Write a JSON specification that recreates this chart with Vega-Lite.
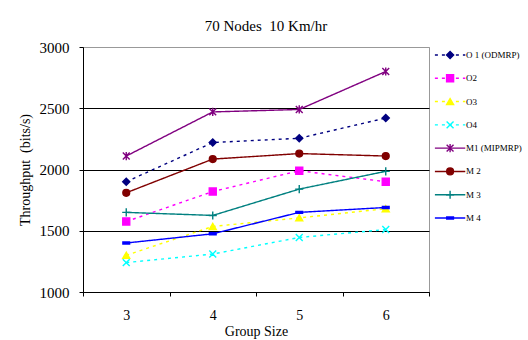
{
  "$schema": "https://vega.github.io/schema/vega-lite/v6.json",
  "padding": {"left": 17, "top": 18, "right": 0, "bottom": 0},
  "background": "white",
  "config": {"font": "Liberation Serif", "view": {"stroke": null}},
  "spacing": 0,
  "datasets": {
    "d": [
      {"series": "O 1 (ODMRP)", "g": 3, "v": 1900}, {"series": "O 1 (ODMRP)", "g": 4, "v": 2220}, {"series": "O 1 (ODMRP)", "g": 5, "v": 2255}, {"series": "O 1 (ODMRP)", "g": 6, "v": 2420},
      {"series": "O2", "g": 3, "v": 1575}, {"series": "O2", "g": 4, "v": 1820}, {"series": "O2", "g": 5, "v": 1990}, {"series": "O2", "g": 6, "v": 1900},
      {"series": "O3", "g": 3, "v": 1300}, {"series": "O3", "g": 4, "v": 1535}, {"series": "O3", "g": 5, "v": 1605}, {"series": "O3", "g": 6, "v": 1680},
      {"series": "O4", "g": 3, "v": 1240}, {"series": "O4", "g": 4, "v": 1310}, {"series": "O4", "g": 5, "v": 1445}, {"series": "O4", "g": 6, "v": 1510},
      {"series": "M1 (MIPMRP)", "g": 3, "v": 2110}, {"series": "M1 (MIPMRP)", "g": 4, "v": 2470}, {"series": "M1 (MIPMRP)", "g": 5, "v": 2490}, {"series": "M1 (MIPMRP)", "g": 6, "v": 2800},
      {"series": "M 2", "g": 3, "v": 1810}, {"series": "M 2", "g": 4, "v": 2085}, {"series": "M 2", "g": 5, "v": 2130}, {"series": "M 2", "g": 6, "v": 2110},
      {"series": "M 3", "g": 3, "v": 1650}, {"series": "M 3", "g": 4, "v": 1625}, {"series": "M 3", "g": 5, "v": 1840}, {"series": "M 3", "g": 6, "v": 1985},
      {"series": "M 4", "g": 3, "v": 1400}, {"series": "M 4", "g": 4, "v": 1475}, {"series": "M 4", "g": 5, "v": 1650}, {"series": "M 4", "g": 6, "v": 1690}
    ],
    "leg": [
      {"series": "O 1 (ODMRP)"}, {"series": "O2"}, {"series": "O3"}, {"series": "O4"},
      {"series": "M1 (MIPMRP)"}, {"series": "M 2"}, {"series": "M 3"}, {"series": "M 4"}
    ]
  },
  "hconcat": [
    {
      "width": 346,
      "height": 245,
      "view": {"stroke": "#999999"},
      "title": {"text": "70 Nodes\u00a0 10 Km/hr", "fontSize": 15, "fontWeight": "normal", "font": "Liberation Serif", "offset": 6, "anchor": "middle", "dx": 10, "color": "black"},
      "data": {"name": "d"},
      "encoding": {
        "x": {
          "field": "g", "type": "ordinal", "bandPosition": 0.5,
          "scale": {"type": "band", "paddingInner": 0, "paddingOuter": 0},
          "axis": {"title": "Group Size", "labelAngle": 0, "tickBand": "extent", "domainColor": "black", "tickColor": "black", "labelColor": "black", "titleColor": "black", "labelFontSize": 14, "titleFontSize": 14, "titleFontWeight": "normal", "labelPadding": 12, "titlePadding": 2, "grid": false, "tickSize": 4, "labelFont": "Liberation Serif", "titleFont": "Liberation Serif"}
        },
        "y": {
          "field": "v", "type": "quantitative",
          "scale": {"domain": [1000, 3000], "nice": false},
          "axis": {"values": [1000, 1500, 2000, 2500, 3000], "format": "d", "title": "Throughput\u00a0 (bits/s)", "grid": true,
            "gridColor": {"condition": {"test": "datum.value == 3000", "value": "#999999"}, "value": "black"},
            "gridOpacity": 1, "domainColor": "black", "tickColor": "black", "labelColor": "black", "titleColor": "black", "labelFontSize": 15, "titleFontSize": 14, "titleFontWeight": "normal", "labelPadding": 10, "titlePadding": 7, "tickSize": 4, "labelFont": "Liberation Serif", "titleFont": "Liberation Serif"}
        }
      },
      "layer": [
        {
          "mark": {"type": "line", "strokeWidth": 1.4},
          "encoding": {
            "detail": {"field": "series"},
            "color": {"field": "series", "type": "nominal", "legend": null,
              "scale": {"domain": ["O 1 (ODMRP)", "O2", "O3", "O4", "M1 (MIPMRP)", "M 2", "M 3", "M 4"], "range": ["#000080", "#FF00FF", "#FFFF00", "#00FFFF", "#800080", "#800000", "#008080", "#0000FF"]}},
            "strokeDash": {"field": "series", "type": "nominal", "legend": null,
              "scale": {"domain": ["O 1 (ODMRP)", "O2", "O3", "O4", "M1 (MIPMRP)", "M 2", "M 3", "M 4"], "range": [[3, 4], [3, 4], [3, 4], [3, 4], [1, 0], [1, 0], [1, 0], [1, 0]]}}
          }
        },
        {
          "mark": {"type": "point", "opacity": 1, "strokeWidth": 1.4},
          "encoding": {
            "fill": {"field": "series", "type": "nominal", "legend": null,
              "scale": {"domain": ["O 1 (ODMRP)", "O2", "O3", "O4", "M1 (MIPMRP)", "M 2", "M 3", "M 4"], "range": ["#000080", "#FF00FF", "#FFFF00", "transparent", "transparent", "#800000", "transparent", "#0000FF"]}},
            "stroke": {"field": "series", "type": "nominal", "legend": null,
              "scale": {"domain": ["O 1 (ODMRP)", "O2", "O3", "O4", "M1 (MIPMRP)", "M 2", "M 3", "M 4"], "range": ["#000080", "#FF00FF", "#FFFF00", "#00FFFF", "#800080", "#800000", "#008080", "#0000FF"]}},
            "shape": {"field": "series", "type": "nominal", "legend": null,
              "scale": {"domain": ["O 1 (ODMRP)", "O2", "O3", "O4", "M1 (MIPMRP)", "M 2", "M 3", "M 4"], "range": ["diamond", "square", "triangle-up", "M-1,-1L1,1M1,-1L-1,1", "M-1,-1L1,1M1,-1L-1,1M0,-1.2L0,1.2", "circle", "M-1.2,0L1.2,0M0,-1.2L0,1.2", "M-1,-0.3L1,-0.3L1,0.3L-1,0.3Z"]}},
            "size": {"field": "series", "type": "nominal", "legend": null,
              "scale": {"domain": ["O 1 (ODMRP)", "O2", "O3", "O4", "M1 (MIPMRP)", "M 2", "M 3", "M 4"], "range": [50, 45, 50, 55, 50, 45, 45, 20]}}
          }
        }
      ]
    },
    {
      "width": 98,
      "height": 179,
      "data": {"name": "leg"},
      "encoding": {
        "y": {"field": "series", "type": "nominal", "axis": null,
          "scale": {"type": "point", "padding": 0.343, "domain": ["O 1 (ODMRP)", "O2", "O3", "O4", "M1 (MIPMRP)", "M 2", "M 3", "M 4"]}}
      },
      "layer": [
        {
          "mark": {"type": "rule", "strokeWidth": 1.4},
          "encoding": {
            "x": {"datum": 0.5, "type": "quantitative", "scale": {"domain": [0, 9.8]}, "axis": null},
            "x2": {"datum": 3.6},
            "color": {"field": "series", "type": "nominal", "legend": null},
            "strokeDash": {"field": "series", "type": "nominal", "legend": null}
          }
        },
        {
          "mark": {"type": "point", "opacity": 1, "strokeWidth": 1.4},
          "encoding": {
            "x": {"datum": 2.05, "type": "quantitative"},
            "fill": {"field": "series", "type": "nominal", "legend": null},
            "stroke": {"field": "series", "type": "nominal", "legend": null},
            "shape": {"field": "series", "type": "nominal", "legend": null},
            "size": {"field": "series", "type": "nominal", "legend": null}
          }
        },
        {
          "mark": {"type": "text", "align": "left", "baseline": "middle", "fontSize": 9, "font": "Liberation Serif", "color": "black"},
          "encoding": {
            "x": {"datum": 3.68, "type": "quantitative"},
            "text": {"field": "series"}
          }
        }
      ]
    }
  ],
  "resolve": {"scale": {"color": "shared", "fill": "shared", "stroke": "shared", "shape": "shared", "size": "shared", "strokeDash": "shared"}}
}
